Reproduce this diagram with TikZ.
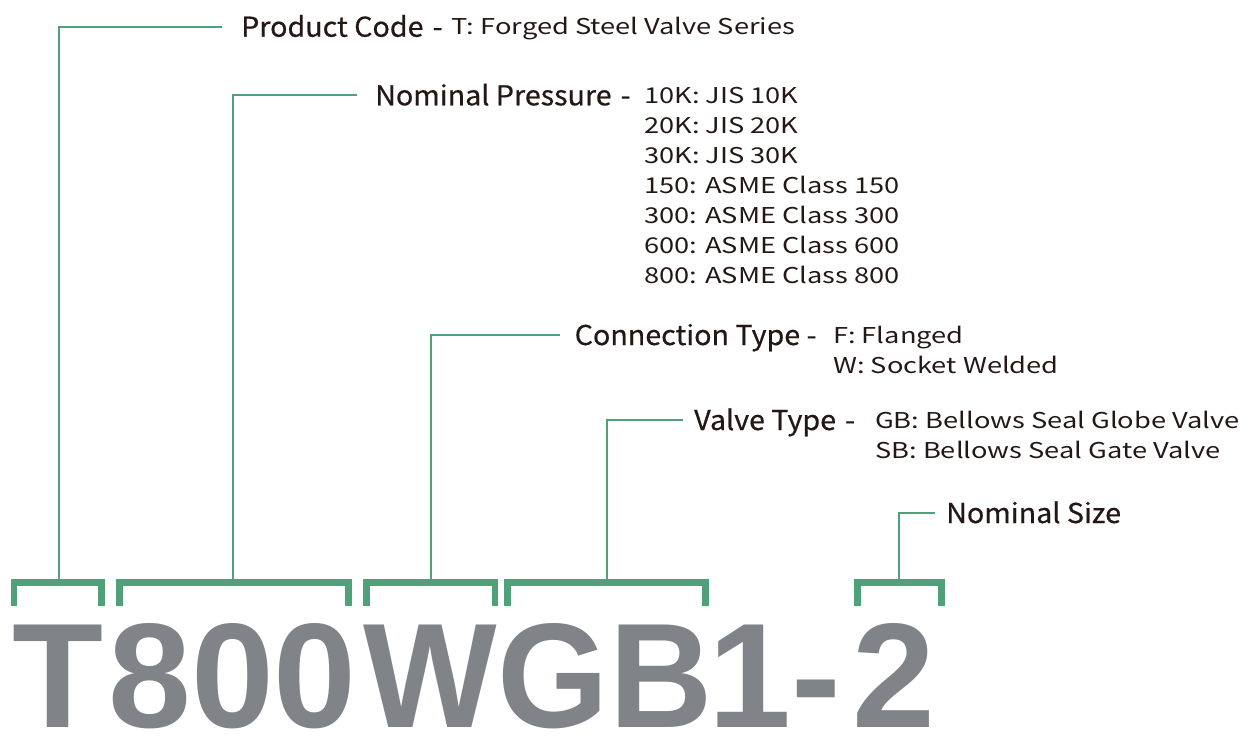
\documentclass[tikz,border=0pt]{standalone}
\usepackage{fontspec}
\setmainfont{Noto Sans CJK JP}
\newfontfamily\headfont{Noto Sans CJK JP}[FakeBold=0.5, FakeStretch=1.05]
\newfontfamily\itemfont{Noto Sans CJK JP}[FakeStretch=1.25]
\newfontfamily\codefont{Liberation Sans Bold}
\usepackage{tikz}
\usetikzlibrary{positioning, calc}
\definecolor{valvegreen}{RGB}{80,160,122}
\definecolor{codegray}{RGB}{128,131,135}
\definecolor{inkblack}{RGB}{35,24,21}

\begin{document}
\begin{tikzpicture}[x=1pt, y=-1pt,
    head/.style={inner sep=0pt, anchor=west, text height=20pt, text depth=0pt, text=inkblack, font=\headfont\fontsize{27.3}{30}\selectfont},
    item/.style={inner sep=0pt, anchor=west, text height=16pt, text depth=0pt, text=inkblack, font=\itemfont\fontsize{21.8}{30}\selectfont},
    codechar/.style={inner sep=0pt, anchor=base, text depth=0pt, text=codegray, font=\codefont\fontsize{149}{149}\selectfont},
    bracket/.style={draw=valvegreen, line width=6.5pt, line join=miter},
    stem/.style={draw=valvegreen, line width=2.2pt}]
    \useasboundingbox (0,0) rectangle (1256,742);

    \node [codechar] (cT) at (58,727) {T};
    \node [codechar] (c800) at (232.5,727) {800};
    \node [codechar, xscale=0.95, transform shape] (cW) at (430,727) {W};
    \node [codechar, xscale=0.96, transform shape] (cGB) at (605,727) {GB};
    \node [codechar, anchor=base west] (csize) at (708,727) {1-\kern12pt2};

    \draw [bracket] (14,606) |- (101.7,582.6) -- (101.7,606);
    \draw [bracket] (119.5,606) |- (348.5,582.6) -- (348.5,606);
    \draw [bracket] (366.5,606) |- (495,582.6) -- (495,606);
    \draw [bracket] (507.3,606) |- (705.7,582.6) -- (705.7,606);
    \draw [bracket] (857.3,606) |- (941.7,582.6) -- (941.7,606);
    \coordinate (s1) at (59.3,582.6);
    \coordinate (s2) at (233.3,582.6);
    \coordinate (s3) at (431,582.6);
    \coordinate (s4) at (607,582.6);
    \coordinate (s5) at (899,582.6);

    \node [head] (code) at (241,26.7) {Product Code\,\,-};
    \node [item] (codeT) at (451,26.7) {T: Forged Steel Valve Series};

    \node [head] (pres) at (375,95.3) {Nominal Pressure\,\,-};
    \foreach \t [count=\i from 0] in {10K: JIS 10K, 20K: JIS 20K, 30K: JIS 30K, 150: ASME Class 150, 300: ASME Class 300, 600: ASME Class 600, 800: ASME Class 800}
        \node [item] (pres\i) at (644,95.3+30*\i) {\t};

    \node [head] (conn) at (574.5,335) {Connection Type -};
    \node [item] (connF) at (833,335) {F: Flanged};
    \node [item] (connW) at (833,365.5) {W: Socket Welded};

    \node [head] (valve) at (694,420) {Valve Type\,\,-};
    \node [item] (valveGB) at (875,420) {GB: Bellows Seal Globe Valve};
    \node [item] (valveSB) at (875,450.5) {SB: Bellows Seal Gate Valve};

    \node [head] (size) at (946,513) {Nominal Size};

    \draw [stem] (s1) |- ([xshift=-19pt]code.west);
    \draw [stem] (s2) |- ([xshift=-18pt]pres.west);
    \draw [stem] (s3) |- ([xshift=-14.5pt]conn.west);
    \draw [stem] (s4) |- ([xshift=-11.3pt]valve.west);
    \draw [stem] (s5) |- ([xshift=-11pt]size.west);
\end{tikzpicture}
\end{document}
